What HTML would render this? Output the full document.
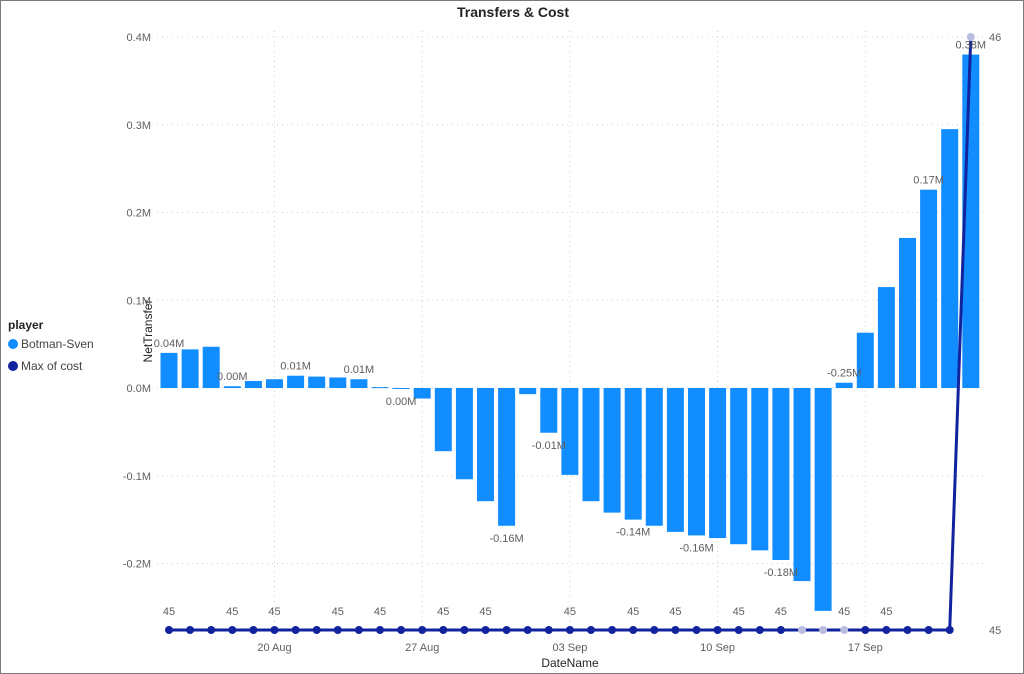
<!DOCTYPE html>
<html><head><meta charset="utf-8"><style>
html,body{margin:0;padding:0;background:#fff;}
#wrap{position:relative;width:1022px;height:672px;border:1px solid #7a7a7a;overflow:hidden;font-family:"Liberation Sans",sans-serif;}
svg text{font-family:"Liberation Sans",sans-serif;}
</style></head><body>
<div id="wrap">
<svg id="c" width="1022" height="672" xmlns="http://www.w3.org/2000/svg">
<text x="512" y="16" text-anchor="middle" font-size="14" font-weight="bold" fill="#252423">Transfers &amp; Cost</text>
<text transform="translate(151,330) rotate(-90)" text-anchor="middle" font-size="12" fill="#252423">NetTransfer</text>
<text x="569" y="666" text-anchor="middle" font-size="12" fill="#252423">DateName</text>
<g>
<text x="7" y="328" font-size="12" font-weight="bold" fill="#252423">player</text>
<circle cx="12" cy="343" r="5" fill="#118DFF"/>
<text x="20" y="347" font-size="12" fill="#444">Botman-Sven</text>
<circle cx="12" cy="365" r="5" fill="#12239E"/>
<text x="20" y="369" font-size="12" fill="#444">Max of cost</text>
</g>
<g id="grid"></g><g id="bars"></g><g id="line"></g><g id="labels"></g>
</svg>
</div>
<script>
const dates=["15 Aug","16 Aug","17 Aug","18 Aug","19 Aug","20 Aug","21 Aug","22 Aug","23 Aug","24 Aug","25 Aug","26 Aug","27 Aug","28 Aug","29 Aug","30 Aug","31 Aug","01 Sep","02 Sep","03 Sep","04 Sep","05 Sep","06 Sep","07 Sep","08 Sep","09 Sep","10 Sep","11 Sep","12 Sep","13 Sep","14 Sep","15 Sep","16 Sep","17 Sep","18 Sep","19 Sep","20 Sep","21 Sep","22 Sep"];
const netTransfer=[0.040,0.044,0.047,0.002,0.008,0.010,0.014,0.013,0.012,0.010,0.001,-0.001,-0.012,-0.072,-0.104,-0.129,-0.157,-0.007,-0.051,-0.099,-0.129,-0.142,-0.150,-0.157,-0.164,-0.168,-0.171,-0.178,-0.185,-0.196,-0.220,-0.254,0.006,0.063,0.115,0.171,0.226,0.295,0.380];
const maxCost=[45,45,45,45,45,45,45,45,45,45,45,45,45,45,45,45,45,45,45,45,45,45,45,45,45,45,45,45,45,45,45,45,45,45,45,45,45,45,46];
const yTicks=[0.4,0.3,0.2,0.1,0,-0.1,-0.2];
const yTickLabels=["0.4M","0.3M","0.2M","0.1M","0.0M","-0.1M","-0.2M"];
const xTickDates=["20 Aug","27 Aug","03 Sep","10 Sep","17 Sep"];
const barLabelIdx=[0,3,6,9,11,16,18,22,25,29,32,36,38];
const barLabelText=["0.04M","0.00M","0.01M","0.01M","0.00M","-0.16M","-0.01M","-0.14M","-0.16M","-0.18M","-0.25M","0.17M","0.38M"];
const costLabelIdx=[0,3,5,8,10,13,15,19,22,24,27,29,32,34];

const NS="http://www.w3.org/2000/svg";
const x0=168,step=21.1,bw=17;
const xs=i=>x0+i*step;
const ys=v=>387-v*877.5;
const yc=v=>629-(v-45)*593;
function mk(t,a,p){const e=document.createElementNS(NS,t);for(const k in a)e.setAttribute(k,a[k]);p.appendChild(e);return e;}
const G=document.getElementById('grid'),B=document.getElementById('bars'),L=document.getElementById('line'),T=document.getElementById('labels');
yTicks.forEach((v,i)=>{
 const l=mk('line',{x1:156,x2:985,y1:ys(v),y2:ys(v),stroke:'#d0d0d0','stroke-dasharray':'1 4'},G);
 
 
 const t=mk('text',{x:150,y:ys(v)+4,'text-anchor':'end','font-size':11,fill:'#605E5C'},G);t.textContent=yTickLabels[i];
 
 
});
xTickDates.forEach(d=>{
 const i=dates.indexOf(d);
 const l=mk('line',{x1:xs(i),x2:xs(i),y1:30,y2:635,stroke:'#d0d0d0','stroke-dasharray':'1 4'},G);
 
 
 const t=mk('text',{x:xs(i),y:650,'text-anchor':'middle','font-size':11,fill:'#605E5C'},G);t.textContent=d;
 
 
});
netTransfer.forEach((v,i)=>{
 const y=Math.min(ys(v),ys(0)),h=Math.max(Math.abs(ys(v)-ys(0)),1);
 const r=mk('rect',{x:xs(i)-bw/2,y:y,width:bw,height:h,fill:'#118DFF'},B);
 
 
});
const pts=maxCost.map((v,i)=>xs(i)+','+yc(v)).join(' ');
const pl=mk('polyline',{points:pts,fill:'none',stroke:'#12239E','stroke-width':3},L);


maxCost.forEach((v,i)=>{
 const c=mk('circle',{cx:xs(i),cy:yc(v),r:4,fill:(i>=30&&i<=32)||i==38?'#b9bde0':'#12239E'},L);
 
 
});
barLabelIdx.forEach((i,k)=>{
 const v=netTransfer[i];
 const y=v>=0?ys(v)-6:ys(v)+16;
 const t=mk('text',{x:xs(i),y:y,'text-anchor':'middle','font-size':11,fill:'#605E5C'},T);t.textContent=barLabelText[k];
 
 
});
costLabelIdx.forEach(i=>{
 const t=mk('text',{x:xs(i),y:yc(maxCost[i])-15,'text-anchor':'middle','font-size':11,fill:'#605E5C'},T);t.textContent=maxCost[i];
 
 
});
[[46,'46'],[45,'45']].forEach(p=>{
 const t=mk('text',{x:988,y:yc(p[0])+4,'font-size':11,fill:'#605E5C'},T);t.textContent=p[1];
 
 
});
</script>
</body></html>
